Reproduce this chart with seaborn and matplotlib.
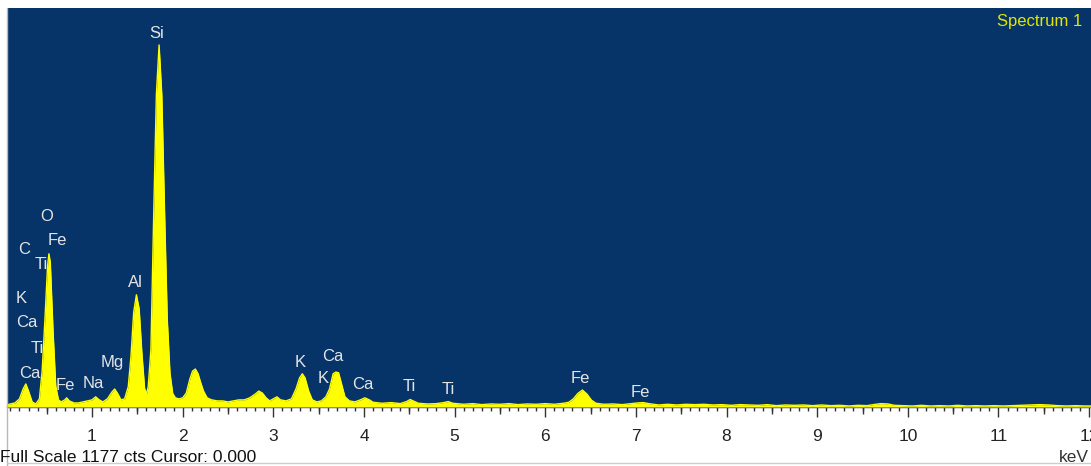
import matplotlib
matplotlib.use("Agg")
import matplotlib.pyplot as plt
from matplotlib.ticker import MultipleLocator
from matplotlib.lines import Line2D
import seaborn as sns
import pandas as pd

# ---------------- data ----------------
energy_kev = [
    0.06, 0.10, 0.15, 0.20, 0.24, 0.27, 0.30, 0.34, 0.38, 0.42,
    0.45, 0.48, 0.51, 0.525, 0.54, 0.57, 0.60, 0.63, 0.66, 0.70,
    0.72, 0.75, 0.80, 0.85, 0.90, 0.95, 1.00, 1.04, 1.08, 1.12,
    1.17, 1.22, 1.25, 1.28, 1.32, 1.36, 1.40, 1.43, 1.46, 1.49,
    1.52, 1.55, 1.58, 1.60, 1.62, 1.65, 1.68, 1.71, 1.74, 1.77,
    1.80, 1.83, 1.86, 1.89, 1.92, 1.96, 2.00, 2.04, 2.08, 2.11,
    2.14, 2.17, 2.20, 2.23, 2.27, 2.32, 2.38, 2.44, 2.50, 2.56,
    2.62, 2.68, 2.74, 2.80, 2.84, 2.88, 2.92, 2.96, 3.00, 3.04,
    3.08, 3.14, 3.20, 3.25, 3.29, 3.32, 3.35, 3.39, 3.43, 3.48,
    3.53, 3.58, 3.62, 3.66, 3.69, 3.72, 3.75, 3.79, 3.84, 3.90,
    3.96, 4.01, 4.06, 4.10, 4.20, 4.30, 4.40, 4.47, 4.51, 4.55,
    4.60, 4.70, 4.80, 4.88, 4.93, 4.98, 5.10, 5.20, 5.30, 5.40,
    5.50, 5.60, 5.70, 5.80, 5.90, 6.00, 6.10, 6.20, 6.26, 6.31,
    6.36, 6.41, 6.46, 6.51, 6.56, 6.65, 6.75, 6.85, 6.95, 7.02,
    7.08, 7.14, 7.25, 7.35, 7.45, 7.55, 7.65, 7.75, 7.85, 7.95,
    8.05, 8.15, 8.25, 8.35, 8.45, 8.55, 8.65, 8.75, 8.85, 8.95,
    9.05, 9.15, 9.25, 9.35, 9.45, 9.55, 9.62, 9.70, 9.78, 9.85,
    9.95, 10.05, 10.15, 10.25, 10.35, 10.45, 10.55, 10.65, 10.75, 10.85,
    10.95, 11.05, 11.15, 11.25, 11.35, 11.45, 11.55, 11.65, 11.75, 11.85,
    11.95, 12.05,
]
counts = [
    6, 9, 12, 24, 53, 68, 47, 15, 9, 24,
    106, 254, 417, 452, 426, 225, 62, 21, 15, 21,
    27, 18, 12, 12, 15, 18, 21, 30, 21, 15,
    24, 44, 53, 41, 21, 24, 60, 150, 280, 331,
    290, 160, 55, 38, 60, 170, 560, 920, 1068, 920,
    580, 260, 100, 40, 27, 24, 27, 41, 83, 106,
    112, 98, 71, 47, 27, 21, 18, 18, 15, 18,
    21, 21, 27, 38, 47, 41, 27, 18, 24, 30,
    21, 18, 24, 53, 86, 98, 86, 47, 21, 15,
    18, 30, 53, 98, 103, 101, 71, 30, 18, 15,
    21, 27, 21, 14, 11, 13, 10, 16, 22, 17,
    11, 9, 10, 13, 16, 11, 8, 10, 7, 9,
    8, 10, 7, 9, 8, 10, 8, 11, 14, 24,
    40, 50, 38, 20, 11, 8, 9, 7, 10, 12,
    13, 10, 6, 8, 6, 8, 7, 8, 6, 7,
    5, 7, 6, 5, 7, 4, 6, 5, 6, 4,
    6, 4, 5, 3, 5, 4, 7, 10, 9, 5,
    4, 3, 5, 3, 4, 3, 5, 3, 4, 3,
    4, 3, 4, 5, 6, 7, 6, 4, 3, 4,
    3, 3,
]

# element labels: text, energy (keV), counts
label_text = ["Si", "O", "Fe", "C", "Ti", "Al", "K", "Ca", "Ti", "Mg",
              "Ca", "Fe", "Na", "K", "Ca", "K", "Ca", "Ti", "Ti", "Fe", "Fe"]
label_kev = [1.717, 0.504, 0.614, 0.250, 0.437, 1.474, 0.217, 0.283, 0.393, 1.220,
             0.316, 0.702, 1.011, 3.294, 3.658, 3.548, 3.990, 4.497, 4.927, 6.383, 7.045]
label_cts = [1103, 563, 490, 466, 419, 366, 319, 248, 174, 130,
             100, 62, 68, 130, 150, 83, 65, 59, 53, 83, 44]

tick_values = list(range(1, 13))
tick_labels = [str(v) for v in tick_values]
full_scale = 1177

# ---------------- style ----------------
sns.set_style("white")
plt.rcParams["font.family"] = ["Liberation Sans", "DejaVu Sans"]

W, H = 1091, 466
fig = plt.figure(figsize=(W / 100, H / 100), dpi=100)
fig.patch.set_facecolor("white")

ax = fig.add_axes([7 / W, 59 / H, 1084 / W, 399 / H])
ax.set_facecolor("#063468")

df = pd.DataFrame({"keV": energy_kev, "cts": counts})
ax.fill_between(df["keV"], 0, df["cts"], color="#ffff00", lw=0, zorder=3)
sns.lineplot(data=df, x="keV", y="cts", ax=ax, color="#ffff00", lw=1.0, zorder=4)

ax.set_xlim((7 - 1.35) / 90.65, (W - 1.35) / 90.65)
ax.set_ylim(0, full_scale)
ax.set_xlabel("")
ax.set_ylabel("")
ax.set_yticks([])

ax.set_xticks(tick_values)
ax.set_xticklabels(tick_labels, fontsize=12.5, color="#222222")
ax.xaxis.set_minor_locator(MultipleLocator(0.1))
ax.tick_params(axis="x", which="major", direction="out", length=7, width=1,
               color="#333333", pad=9, bottom=True)
ax.tick_params(axis="x", which="minor", direction="out", length=3, width=1,
               color="#333333", bottom=True)

sec = ax.secondary_xaxis("bottom")
sec.set_xticks([v + 0.5 for v in range(0, 12)])
sec.set_xticklabels([])
sec.tick_params(axis="x", which="major", direction="out", length=5, width=1,
                color="#333333")
sec.spines["bottom"].set_visible(False)

for s in ["top", "right", "left"]:
    ax.spines[s].set_visible(False)
ax.spines["bottom"].set_color("#333333")
ax.spines["bottom"].set_linewidth(1)

for t, xk, yc in zip(label_text, label_kev, label_cts):
    ax.text(xk, yc, t, color="#e4e4e4", fontsize=12, ha="center", va="center",
            zorder=2)

ax.text(0.9917, 0.965, "Spectrum 1", transform=ax.transAxes, color="#e2e600",
        fontsize=12, ha="right", va="center")

fig.text(0.0, (H - 458) / H, "Full Scale 1177 cts Cursor: 0.000", fontsize=12.5,
         color="#111111", ha="left", va="center")
fig.text(1089 / W, (H - 458) / H, "keV", fontsize=12.5, color="#333333",
         ha="right", va="center")

fig.add_artist(Line2D([7 / W, 7 / W], [0, (H - 8) / H], color="#b8b8b8", lw=1,
                      transform=fig.transFigure))
fig.add_artist(Line2D([7 / W, 1], [3 / H, 3 / H], color="#cccccc", lw=1,
                      transform=fig.transFigure))

fig.savefig("out.png", dpi=100)
